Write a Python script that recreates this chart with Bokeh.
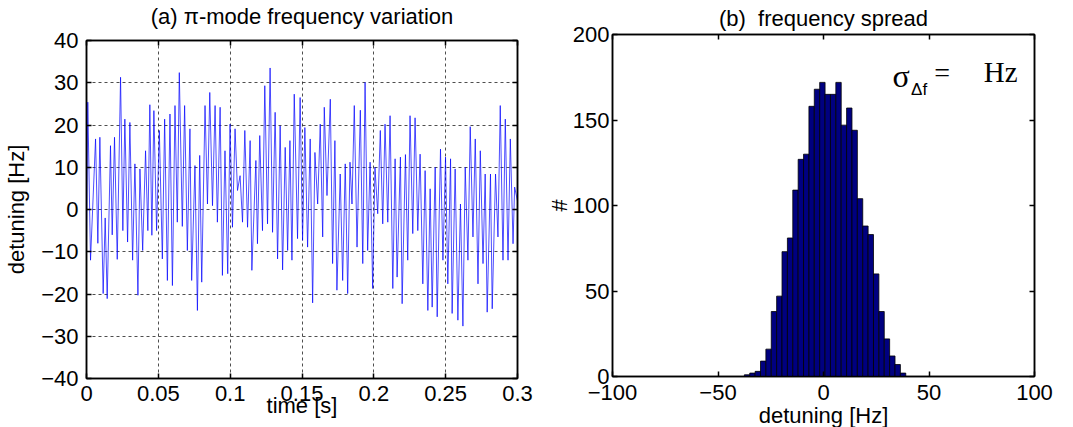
from bokeh.plotting import figure
from bokeh.layouts import row, column
from bokeh.models import LinearAxis, FixedTicker, Range1d
from bokeh.embed import file_html
from bokeh.resources import INLINE
from bokeh.core.properties import value

# ---------------- data ----------------
time_s = [
    0.0000, 0.0009, 0.0028, 0.0063, 0.0079, 0.0093, 0.0116, 0.0130, 0.0144, 0.0167,
    0.0179, 0.0195, 0.0214, 0.0237, 0.0253, 0.0267, 0.0286, 0.0302, 0.0321, 0.0337,
    0.0358, 0.0372, 0.0391, 0.0411, 0.0427, 0.0441, 0.0455, 0.0469, 0.0488, 0.0507,
    0.0528, 0.0544, 0.0563, 0.0581, 0.0598, 0.0616, 0.0632, 0.0646, 0.0667, 0.0683,
    0.0702, 0.0720, 0.0732, 0.0755, 0.0772, 0.0788, 0.0802, 0.0825, 0.0842, 0.0858,
    0.0877, 0.0895, 0.0911, 0.0930, 0.0946, 0.0964, 0.0983, 0.0999, 0.1016, 0.1034,
    0.1051, 0.1069, 0.1086, 0.1102, 0.1121, 0.1139, 0.1151, 0.1179, 0.1190, 0.1206,
    0.1225, 0.1241, 0.1260, 0.1278, 0.1295, 0.1313, 0.1330, 0.1348, 0.1365, 0.1383,
    0.1400, 0.1416, 0.1430, 0.1446, 0.1469, 0.1487, 0.1504, 0.1520, 0.1539, 0.1557,
    0.1574, 0.1590, 0.1609, 0.1627, 0.1644, 0.1655, 0.1674, 0.1697, 0.1713, 0.1729,
    0.1743, 0.1766, 0.1783, 0.1801, 0.1818, 0.1834, 0.1848, 0.1864, 0.1883, 0.1906,
    0.1923, 0.1939, 0.1957, 0.1974, 0.1992, 0.2008, 0.2027, 0.2045, 0.2062, 0.2078,
    0.2097, 0.2113, 0.2132, 0.2148, 0.2162, 0.2185, 0.2197, 0.2220, 0.2236, 0.2252,
    0.2271, 0.2287, 0.2306, 0.2322, 0.2341, 0.2357, 0.2376, 0.2392, 0.2406, 0.2427,
    0.2441, 0.2464, 0.2481, 0.2499, 0.2515, 0.2534, 0.2545, 0.2566, 0.2585, 0.2603,
    0.2620, 0.2636, 0.2655, 0.2671, 0.2690, 0.2706, 0.2725, 0.2741, 0.2760, 0.2775,
    0.2789, 0.2812, 0.2824, 0.2847, 0.2864, 0.2880, 0.2899, 0.2915, 0.2934, 0.2950,
    0.2969, 0.2980, 0.3000,
]
detuning_hz = [
    -8, 25.4, -12, 16.7, -8, 17.1, -19.9, -2, -21.1, 15.1,
    -6, 17.1, -11.8, 31.3, -5, 21.4, -7.7, 20.6, -12, 10.8,
    -20.3, 9.6, -9.7, 13.9, -5, 24.8, -6.1, 23.4, -5, 18.7,
    -11.7, 21.4, -16.8, 22.6, -18, 24.6, -3, 32.4, -4, 24.6,
    -9.7, 19.1, -16.8, 10.4, -23.9, 12.8, -17.2, 24.6, 1.3, 27.7,
    0.9, 24.6, -3, 24.2, -15.6, 13.9, -15.2, 20.2, -4.2, 19.1,
    4.5, 8, -3, 18.7, -4.2, 16.3, -14.4, 11.6, -8.1, 17.5,
    -5, 29.3, -3.4, 33.5, -5.4, 23, -11.7, 19.8, -14.3, 14.7,
    -9.7, 16.3, -12, 27.3, -6.9, 26.5, -7.3, 19.4, -8.9, 16.7,
    -22.1, 13.5, 1.3, 20.2, -6.5, 24.2, 3.3, 26.1, -12.8, 16.3,
    -19.1, 8.4, -16.8, 10.8, -19.9, 11.2, 1.3, 24.6, -8.9, 23.5,
    -12.8, 30.1, -9.7, 11.2, -18.7, 10, -1, 18.7, -3.4, 20.2,
    -3, 22.2, -18.7, 12, -16, 12.4, -22.3, 13, -12, 22.2,
    -5.7, 21.7, -5, 13.1, -17.6, 9.2, -23.9, 4.9, -23.1, 10,
    -25.4, 14.3, -12, 12.4, -17.6, 12, -24.6, 9.6, -26.2, 1.3,
    -27.6, 10, -12, 19.6, -6.5, 16.7, -17.6, 13.9, -12.8, 8.4,
    -24.3, 8.4, -23.5, 8.4, -6.5, 24.6, -12, 21.4, -12, 16.7,
    -8.1, 5.3, 2,
]

bin_centers_hz = [
    -36.23, -33.68, -31.13, -28.58, -26.03, -23.48, -20.93, -18.38, -15.83, -13.28,
    -10.73, -8.18, -5.63, -3.08, -0.53, 2.02, 4.57, 7.12, 9.67, 12.22,
    14.77, 17.32, 19.87, 22.42, 24.97, 27.52, 30.07, 32.62, 35.17, 37.72,
]
bin_counts = [
    1, 2, 3, 9, 16, 38, 47, 73, 81, 109,
    127, 130, 158, 168, 172, 165, 165, 172, 147, 157,
    144, 104, 88, 83, 60, 38, 22, 12, 7, 2,
]
bin_width_hz = 2.55

left_xticks = [0, 0.05, 0.1, 0.15, 0.2, 0.25, 0.3]
left_xlabels = ["0", "0.05", "0.1", "0.15", "0.2", "0.25", "0.3"]
left_yticks = [-40, -30, -20, -10, 0, 10, 20, 30, 40]
left_ylabels = ["\u221240", "\u221230", "\u221220", "\u221210", "0", "10", "20", "30", "40"]
right_xticks = [-100, -50, 0, 50, 100]
right_xlabels = ["\u2212100", "\u221250", "0", "50", "100"]
right_yticks = [0, 50, 100, 150, 200]
right_ylabels = ["0", "50", "100", "150", "200"]

FONT = "Liberation Sans"
FS = "22px"


def style_axis(ax, ticks, labels=None):
    ax.ticker = FixedTicker(ticks=ticks)
    if labels is not None:
        ax.major_label_overrides = {t: l for t, l in zip(ticks, labels)}
        ax.major_label_text_font_size = FS
    else:
        ax.major_label_text_font_size = "0px"
        ax.major_label_text_alpha = 0
        ax.major_label_standoff = 0
    ax.major_tick_in = 5
    ax.major_tick_out = 0
    ax.minor_tick_line_color = None
    ax.axis_line_width = 1.5
    ax.axis_line_color = "black"
    ax.major_tick_line_color = "black"
    ax.major_tick_line_width = 1.5
    ax.major_label_text_font = FONT
    ax.major_label_text_color = "black"
    ax.axis_label_text_font = FONT
    ax.axis_label_text_font_size = FS
    ax.axis_label_text_font_style = "normal"
    ax.axis_label_text_color = "black"


# ---------------- left panel ----------------
p1 = figure(frame_width=431, frame_height=338,
            min_border_left=86, min_border_right=25,
            min_border_top=40, min_border_bottom=49,
            x_range=Range1d(0, 0.3), y_range=Range1d(-40, 40),
            output_backend="svg", toolbar_location=None,
            x_axis_label="time [s]", y_axis_label="detuning [Hz]")
p1.outline_line_color = "black"
p1.outline_line_width = 1.5
p1.line(time_s, detuning_hz, line_color="#0000ff", line_width=0.7)

style_axis(p1.xaxis[0], left_xticks, left_xlabels)
style_axis(p1.yaxis[0], left_yticks, left_ylabels)
p1.xaxis[0].major_label_standoff = 7
p1.xaxis[0].axis_label_standoff = -11
p1.yaxis[0].major_label_standoff = 8
p1.yaxis[0].axis_label_standoff = 9
ax_top = LinearAxis(axis_label="(a) \u03c0-mode frequency variation")
ax_right = LinearAxis()
p1.add_layout(ax_top, "above")
p1.add_layout(ax_right, "right")
style_axis(ax_top, left_xticks)
style_axis(ax_right, left_yticks)
ax_top.axis_label_standoff = 12

p1.xgrid.ticker = FixedTicker(ticks=left_xticks)
p1.ygrid.ticker = FixedTicker(ticks=left_yticks)
for g in (p1.xgrid[0], p1.ygrid[0]):
    g.grid_line_color = "#222222"
    g.grid_line_dash = "3 3"
    g.grid_line_width = 1
    g.grid_line_alpha = 0.8

# ---------------- right panel ----------------
p2 = figure(frame_width=422, frame_height=342,
            min_border_left=70, min_border_right=38,
            min_border_top=34, min_border_bottom=51,
            x_range=Range1d(-100, 100), y_range=Range1d(0, 200),
            output_backend="svg", toolbar_location=None,
            x_axis_label="detuning [Hz]", y_axis_label="#")
p2.outline_line_color = "black"
p2.outline_line_width = 1.5
p2.grid.visible = False
p2.vbar(x=bin_centers_hz, width=bin_width_hz, top=bin_counts, bottom=0,
        fill_color="#000080", line_color="black", line_width=0.8)

style_axis(p2.xaxis[0], right_xticks, right_xlabels)
style_axis(p2.yaxis[0], right_yticks, right_ylabels)
p2.xaxis[0].major_label_standoff = 8
p2.xaxis[0].axis_label_standoff = 0
p2.yaxis[0].major_label_standoff = 3
p2.yaxis[0].axis_label_standoff = -2
ax_top2 = LinearAxis(axis_label="(b)\u00a0\u00a0frequency spread")
ax_right2 = LinearAxis()
p2.add_layout(ax_top2, "above")
p2.add_layout(ax_right2, "right")
style_axis(ax_top2, right_xticks)
style_axis(ax_right2, right_yticks)
ax_top2.axis_label_standoff = 4

# sigma annotation
p2.text(x=[32.7], y=[176], text=["\u03c3"], text_font=value("Liberation Serif"),
        text_font_size="32px", text_baseline="alphabetic", text_color="black")
p2.text(x=[41.5], y=[168], text=["\u0394f"], text_font=value(FONT),
        text_font_size="17px", text_baseline="alphabetic", text_color="black")
p2.text(x=[52.5], y=[178], text=["="], text_font=value("Liberation Serif"),
        text_font_size="28px", text_baseline="alphabetic", text_color="black")
p2.text(x=[76], y=[178], text=["Hz"], text_font=value("Liberation Serif"),
        text_font_size="29px", text_baseline="alphabetic", text_color="black")

layout = row(column(p1), column(p2), spacing=0)
open("out.html", "w").write(file_html(layout, INLINE))
